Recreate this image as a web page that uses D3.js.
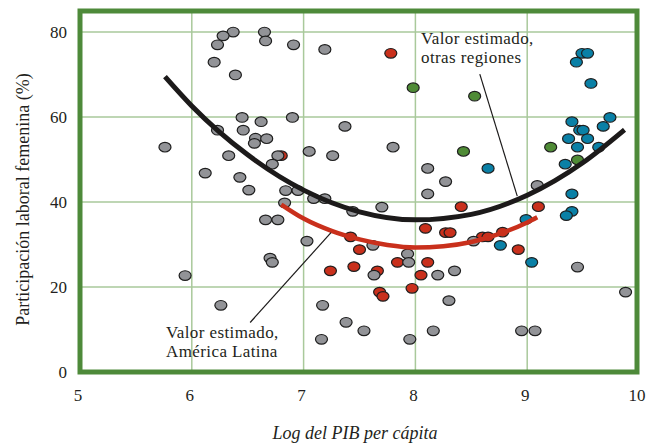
<!DOCTYPE html>
<html>
<head>
<meta charset="utf-8">
<script src="https://cdn.jsdelivr.net/npm/d3@7"></script>
<style>
  body { margin: 0; background: #fff; }
  text { font-family: "Liberation Serif", "DejaVu Serif", serif; fill: #231f20; }
</style>
</head>
<body>
<div id="chart"></div>
<script>

// ======================= //
// DATA
// ======================= //

// [log PIB per capita, participacion laboral femenina]
var grayPts = [
  [6.37,80.0],[6.28,79.1],[6.23,77.0],[6.65,80.0],[6.66,77.9],[6.91,77.0],[6.20,72.9],[6.39,69.9],
  [5.76,52.9],[6.45,59.9],[6.62,58.9],[6.90,59.9],[7.37,57.8],[6.23,56.9],[6.46,56.9],[6.57,55.0],
  [6.67,54.9],[6.56,53.8],[6.33,50.9],[6.77,50.9],[7.05,51.9],[7.26,50.9],[6.72,48.9],[6.12,46.8],
  [6.43,45.8],[6.51,42.8],[6.84,42.7],[6.95,42.7],[7.09,40.8],[7.19,40.8],[6.83,39.8],[6.66,35.8],
  [6.77,35.8],[7.03,30.8],[6.70,26.8],[6.72,25.8],[5.94,22.7],[6.26,15.7],[7.19,75.9],[7.80,52.9],
  [8.11,47.9],[8.27,44.8],[8.11,41.9],[7.44,37.8],[7.70,38.8],[7.62,29.8],[7.93,27.8],[7.94,25.8],
  [7.63,22.8],[8.20,22.8],[8.35,23.8],[8.30,16.8],[7.17,15.7],[7.38,11.7],[7.54,9.7],[8.16,9.7],
  [7.16,7.7],[7.95,7.7],[8.52,30.8],[9.09,43.9],[9.45,24.7],[9.88,18.8],[8.95,9.7],[9.07,9.7]
];
var latamPts = [
  [7.78,75.0],[6.80,50.9],[7.42,31.8],[7.50,28.8],[8.09,33.8],[8.27,32.8],[8.31,32.8],[7.84,25.8],
  [8.11,25.8],[7.24,23.8],[7.45,24.8],[7.66,23.8],[8.05,22.8],[7.97,19.7],[7.68,18.8],[7.71,17.8],
  [8.41,38.9],[8.60,31.8],[8.65,31.8],[8.78,32.9],[8.92,28.8],[9.10,38.9]
];
var bluePts = [
  [9.49,75.0],[9.54,75.0],[9.44,72.9],[9.57,67.9],[9.40,58.9],[9.74,59.9],[9.68,57.8],[9.47,56.9],
  [9.50,56.9],[9.37,54.9],[9.54,54.9],[9.45,52.9],[9.64,52.9],[9.34,48.9],[8.65,47.9],[9.40,41.9],
  [9.40,37.8],[9.35,36.8],[8.99,35.9],[8.76,29.8],[9.04,25.8]
];
var greenPts = [
  [7.98,66.9],[8.53,64.9],[8.43,51.9],[9.21,52.9],[9.45,49.9]
];

// fitted curves
var curveOtras = [
  [5.76,69.5],[6.0,62.6],[6.5,51.1],[7.0,42.8],[7.5,37.7],[8.0,35.8],[8.5,37.1],[9.0,41.6],[9.5,49.3],[9.87,57.0]
];
var curveLatam = [
  [6.80,39.4],[7.0,36.1],[7.25,33.2],[7.5,31.2],[7.75,29.9],[8.0,29.3],[8.25,29.6],[8.5,30.6],[8.75,32.5],[9.0,35.2],[9.09,36.4]
];

var xTicks = [5, 6, 7, 8, 9, 10];
var yTicks = [0, 20, 40, 60, 80];

var labelOtras = ["Valor estimado,", "otras regiones"];
var labelLatam = ["Valor estimado,", "América Latina"];

// ======================= //
// SVG AREA
// ======================= //

var margin = {top: 11, right: 10, bottom: 74, left: 80},
    width = 647 - margin.left - margin.right,
    height = 446 - margin.top - margin.bottom;

var svg = d3.select("#chart")
  .append("svg")
    .attr("width", 647)
    .attr("height", 446)
  .append("g")
    .attr("transform", "translate(" + margin.left + "," + margin.top + ")");

var x = d3.scaleLinear().domain([5, 10]).range([0, 559]);
var y = d3.scaleLinear().domain([0, 84.95]).range([height, 0]);

// ======================= //
// GRID AND AXES
// ======================= //

svg.selectAll("vgrid")
  .data(xTicks.slice(1, -1))
  .enter()
  .append("line")
    .attr("x1", function(d){ return x(d) })
    .attr("x2", function(d){ return x(d) })
    .attr("y1", 0)
    .attr("y2", height)
    .attr("stroke", "#a9c99b")
    .attr("stroke-width", 1.5)

svg.selectAll("hgrid")
  .data(yTicks.slice(1))
  .enter()
  .append("line")
    .attr("x1", 0)
    .attr("x2", width)
    .attr("y1", function(d){ return y(d) })
    .attr("y2", function(d){ return y(d) })
    .attr("stroke", "#a9c99b")
    .attr("stroke-width", 1.5)

// tick labels
svg.selectAll("xlab")
  .data(xTicks)
  .enter()
  .append("text")
    .attr("x", function(d){ return x(d) - 2 })
    .attr("y", height + 29)
    .attr("text-anchor", "middle")
    .style("font-size", "17px")
    .text(function(d){ return d })

svg.selectAll("ylab")
  .data(yTicks)
  .enter()
  .append("text")
    .attr("x", -13)
    .attr("y", function(d){ return y(d) + 6 })
    .attr("text-anchor", "end")
    .style("font-size", "17px")
    .text(function(d){ return d })

// axis titles
svg.append("text")
    .attr("x", 275)
    .attr("y", height + 67)
    .attr("text-anchor", "middle")
    .style("font-size", "18px")
    .style("font-style", "italic")
    .text("Log del PIB per cápita")

svg.append("text")
    .attr("transform", "translate(-51," + (height / 2 + 8) + ") rotate(-90)")
    .attr("text-anchor", "middle")
    .style("font-size", "18px")
    .text("Participación laboral femenina (%)")

// ======================= //
// POINTS
// ======================= //

function drawPts(data, fill) {
  svg.append("g")
    .selectAll("ellipse")
    .data(data)
    .enter()
    .append("ellipse")
      .attr("cx", function(d){ return x(d[0]) })
      .attr("cy", function(d){ return y(d[1]) })
      .attr("rx", 6)
      .attr("ry", 4.8)
      .style("fill", fill)
      .attr("stroke", "#1e1e1e")
      .attr("stroke-width", 1.2)
}

drawPts(latamPts, "#c9301c")
drawPts(grayPts, "#929397")
drawPts(bluePts, "#0a80a6")
drawPts(greenPts, "#4f8b36")

// ======================= //
// CURVES AND NOTES
// ======================= //

var line = d3.line()
  .x(function(d){ return x(d[0]) })
  .y(function(d){ return y(d[1]) })
  .curve(d3.curveMonotoneX)

svg.append("path")
    .datum(curveOtras)
    .attr("d", line)
    .attr("fill", "none")
    .attr("stroke", "#1c1a1a")
    .attr("stroke-width", 5)

svg.append("path")
    .datum(curveLatam)
    .attr("d", line)
    .attr("fill", "none")
    .attr("stroke", "#c9301c")
    .attr("stroke-width", 4.5)

// leader lines
svg.append("line")
    .attr("x1", x(8.576)).attr("y1", y(70.1))
    .attr("x2", x(8.911)).attr("y2", y(41.4))
    .attr("stroke", "#1c1a1a")
    .attr("stroke-width", 1.2)

svg.append("line")
    .attr("x1", x(6.522)).attr("y1", y(11.65))
    .attr("x2", x(7.245)).attr("y2", y(32.8))
    .attr("stroke", "#1c1a1a")
    .attr("stroke-width", 1.2)

svg.selectAll("noteOtras")
  .data(labelOtras)
  .enter()
  .append("text")
    .attr("x", 341)
    .attr("y", function(d,i){ return 33 + i * 19 })
    .style("font-size", "17px")
    .style("letter-spacing", "0.4px")
    .text(function(d){ return d })

svg.selectAll("noteLatam")
  .data(labelLatam)
  .enter()
  .append("text")
    .attr("x", 86)
    .attr("y", function(d,i){ return 327 + i * 19 })
    .style("font-size", "17px")
    .style("letter-spacing", "0.4px")
    .text(function(d){ return d })

// frame on top
svg.append("rect")
    .attr("x", 0)
    .attr("y", 0)
    .attr("width", width)
    .attr("height", height)
    .attr("fill", "none")
    .attr("stroke", "#4e8a3a")
    .attr("stroke-width", 5)

</script>
</body>
</html>
